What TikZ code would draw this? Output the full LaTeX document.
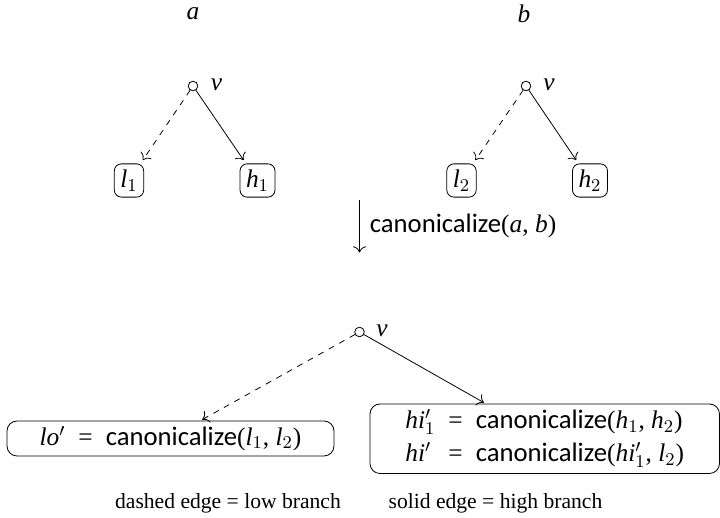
\documentclass[tikz,border=0pt]{standalone}
\usepackage{fontspec}
\setmainfont{Liberation Serif}
\newfontfamily\canonfont{Carlito}[Scale=1.05]
\usetikzlibrary{arrows.meta}
\newcommand\canon{{\canonfont canonicalize}}
\newcommand\mi[1]{\textit{#1}}
\newcommand\eqgap{\hspace{6.5pt}}
\begin{document}
\begin{tikzpicture}[x=0.5pt,y=-0.5pt,
  font=\fontsize{12.7}{15.5}\selectfont,
  tip/.style={-{To[scale=1.25]}},
  vnode/.style={circle,draw,inner sep=0pt,minimum size=4.8pt},
  vlabel/.style={anchor=west,inner sep=1pt},
  leaf/.style={draw,rounded corners=3.5pt,inner sep=3pt,minimum height=14.5pt,minimum width=14pt},
  bigbox/.style={draw,rounded corners=5pt,inner sep=0pt},
  edge/.style={tip,shorten >=2pt},
  lowedge/.style={edge,dashed},
  legend/.style={font=\fontsize{10.8}{13}\selectfont}]
\useasboundingbox (0,0) rectangle (720,518);
% titles
\node (ta) at (193,14) {\mi{a}};
\node (tb) at (524,14) {\mi{b}};
% left tree
\node[vnode] (va) at (193,86) {};
\node[vlabel] (vla) at (208.5,85) {\mi{v}};
\node[leaf] (l1) at (129,180.5) {\mi{l}$_1$};
\node[leaf] (h1) at (257.5,180.5) {\mi{h}$_1$};
\draw[lowedge] (va) -- (l1);
\draw[edge] (va) -- (h1);
% right tree
\node[vnode] (vb) at (526,86) {};
\node[vlabel] (vlb) at (541,85) {\mi{v}};
\node[leaf] (l2) at (461.5,180.5) {\mi{l}$_2$};
\node[leaf] (h2) at (590,180.5) {\mi{h}$_2$};
\draw[lowedge] (vb) -- (l2);
\draw[edge] (vb) -- (h2);
% canonicalize arrow
\coordinate (cs) at (359.5,200);
\coordinate (ce) at (359.5,252.5);
\draw[tip] (cs) -- (ce);
\node[anchor=west,inner sep=0pt] (clab) at (369.5,226) {\canon(\mi{a}, \mi{b})};
% result
\node[vnode] (vc) at (359.5,332) {};
\node[vlabel] (vlc) at (374,331) {\mi{v}};
\node[bigbox,minimum width=163.5pt,minimum height=17.5pt] (lo) at (170.5,438.5)
  {\mi{lo}$'$\eqgap=\eqgap\canon(\mi{l}$_1$, \mi{l}$_2$)};
\node[bigbox,minimum width=174.75pt,minimum height=34.75pt] (hi) at (544.75,438.75)
  {\begin{tabular}{@{}l@{\eqgap}c@{\eqgap}l@{}}
   \mi{hi}$'_1$ & = & \canon(\mi{h}$_1$, \mi{h}$_2$)\\[1pt]
   \mi{hi}$'$ & = & \canon(\mi{hi}$'_1$, \mi{l}$_2$)
   \end{tabular}};
\draw[lowedge,shorten >=1pt] (vc) -- ([xshift=15pt]lo.north);
\draw[edge,shorten >=1pt] (vc) -- ([xshift=58pt]hi.north west);
% legend
\node[legend] (lg1) at (228,503) {dashed edge = low branch};
\node[legend] (lg2) at (495.5,503) {solid edge = high branch};
\end{tikzpicture}
\end{document}
